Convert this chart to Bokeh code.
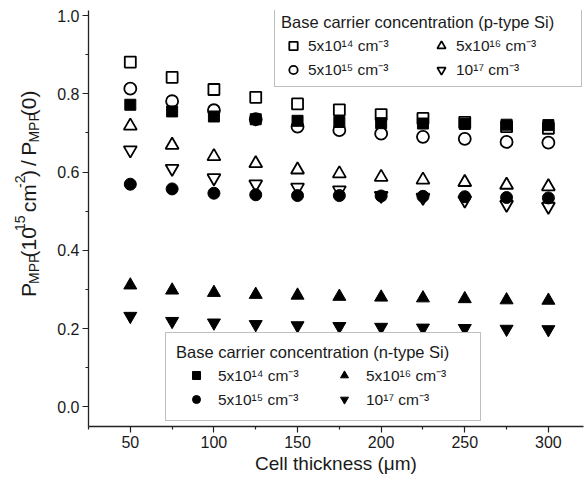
import math
from bokeh.plotting import figure
from bokeh.layouts import row
from bokeh.models import Legend, LegendItem, Label, FixedTicker, PrintfTickFormatter, Range1d
from bokeh.embed import file_html
from bokeh.resources import INLINE

# ---- data -------------------------------------------------------------
thickness = [50, 75, 100, 125, 150, 175, 200, 225, 250, 275, 300]
# p-type Si (open symbols)
p_5e14 = [0.881, 0.842, 0.811, 0.791, 0.774, 0.759, 0.747, 0.737, 0.727, 0.716, 0.712]
p_5e15 = [0.813, 0.781, 0.758, 0.735, 0.716, 0.707, 0.698, 0.690, 0.685, 0.677, 0.675]
p_5e16 = [0.718, 0.669, 0.640, 0.622, 0.606, 0.596, 0.587, 0.580, 0.574, 0.567, 0.563]
p_1e17 = [0.656, 0.609, 0.585, 0.569, 0.561, 0.554, 0.540, 0.535, 0.528, 0.517, 0.512]
# n-type Si (filled symbols)
n_5e14 = [0.772, 0.755, 0.742, 0.735, 0.731, 0.728, 0.725, 0.724, 0.723, 0.721, 0.720]
n_5e15 = [0.569, 0.557, 0.546, 0.542, 0.540, 0.540, 0.539, 0.538, 0.537, 0.535, 0.534]
n_5e16 = [0.311, 0.298, 0.292, 0.287, 0.285, 0.282, 0.280, 0.278, 0.276, 0.273, 0.272]
n_1e17 = [0.232, 0.219, 0.215, 0.211, 0.208, 0.206, 0.204, 0.202, 0.201, 0.199, 0.198]

labels_conc = ["5x10\u00b9\u2074 cm\u207b\u00b3", "5x10\u00b9\u2075 cm\u207b\u00b3",
               "5x10\u00b9\u2076 cm\u207b\u00b3", "10\u00b9\u2077 cm\u207b\u00b3"]
x_ticks = [50, 100, 150, 200, 250, 300]
y_ticks = [0.0, 0.2, 0.4, 0.6, 0.8, 1.0]

FONT = "Liberation Sans"
TXT = "#1a1a1a"

X0, X1 = 25.0, 321.0
Y0, Y1 = -0.05, 1.0128

LAB_W = 54
W_MAIN = 588 - LAB_W
H = 477

p = figure(width=W_MAIN, height=H, x_range=Range1d(X0, X1), y_range=Range1d(Y0, Y1),
           output_backend="svg", toolbar_location=None,
           min_border_left=32, min_border_right=5, min_border_top=10, min_border_bottom=51)
p.outline_line_color = None
p.xgrid.visible = False
p.ygrid.visible = False

x_minor = [t - 25 for t in x_ticks] + [x_ticks[-1] + 25]
y_minor = [round(t + 0.1, 2) for t in y_ticks[:-1]]
p.xaxis.ticker = FixedTicker(ticks=x_ticks, minor_ticks=x_minor)
p.yaxis.ticker = FixedTicker(ticks=y_ticks, minor_ticks=y_minor)
p.xaxis.formatter = PrintfTickFormatter(format="%d")
p.yaxis.formatter = PrintfTickFormatter(format="%.1f")
for ax in (p.xaxis, p.yaxis):
    ax.axis_line_color = "#222222"
    ax.axis_line_width = 1.3
    ax.major_tick_line_color = "#222222"
    ax.minor_tick_line_color = "#222222"
    ax.major_tick_line_width = 1.2
    ax.minor_tick_line_width = 1.2
    ax.major_tick_out = 6
    ax.major_tick_in = 0
    ax.minor_tick_out = 3
    ax.minor_tick_in = 0
    ax.major_label_text_font = FONT
    ax.major_label_text_font_size = "16px"
    ax.major_label_text_color = TXT
    ax.major_label_standoff = 3
p.xaxis.axis_label = "Cell thickness (\u03bcm)"
p.xaxis.axis_label_text_font = FONT
p.xaxis.axis_label_text_font_size = "19px"
p.xaxis.axis_label_text_font_style = "normal"
p.xaxis.axis_label_text_color = TXT
p.xaxis.axis_label_standoff = 2

# ---- markers (open first, filled drawn on top) -------------------------
LW = 1.8
r_p14 = p.scatter(thickness, p_5e14, marker="square", size=11, fill_color="white", line_color="black", line_width=LW)
r_p15 = p.scatter(thickness, p_5e15, marker="circle", size=12, fill_color="white", line_color="black", line_width=LW)
r_p16 = p.scatter(thickness, p_5e16, marker="triangle", size=13, fill_color="white", line_color="black", line_width=LW)
r_p17 = p.scatter(thickness, p_1e17, marker="inverted_triangle", size=13, fill_color="white", line_color="black", line_width=LW)
r_n14 = p.scatter(thickness, n_5e14, marker="square", size=11, fill_color="black", line_color="black", line_width=1)
r_n15 = p.scatter(thickness, n_5e15, marker="circle", size=12, fill_color="black", line_color="black", line_width=1)
r_n16 = p.scatter(thickness, n_5e16, marker="triangle", size=13, fill_color="black", line_color="black", line_width=1)
r_n17 = p.scatter(thickness, n_1e17, marker="inverted_triangle", size=13, fill_color="black", line_color="black", line_width=1)


def make_legend(title, renderers, loc, padding, glyph_w, glyph_h, label_w, standoff, spacing):
    items = [LegendItem(label=lab, renderers=[r]) for lab, r in zip(labels_conc, renderers)]
    return Legend(items=items, location=loc, ncols=2, title=title,
                  title_text_font=FONT, title_text_font_size="16.5px", title_text_font_style="normal",
                  title_text_color=TXT, title_standoff=2,
                  label_text_font=FONT, label_text_font_size="15.5px", label_text_color=TXT,
                  label_width=label_w, label_height=glyph_h, glyph_width=glyph_w, glyph_height=glyph_h,
                  label_standoff=standoff, spacing=spacing, padding=padding,
                  border_line_color="#808080", border_line_width=1.5,
                  background_fill_color="white", background_fill_alpha=1.0)


leg_p = make_legend("Base carrier concentration (p-type Si)", [r_p14, r_p15, r_p16, r_p17],
                    (186, 339), 6, 24, 21, 119, 3, 2)
leg_n = make_legend("Base carrier concentration (n-type Si)", [r_n14, r_n15, r_n16, r_n17],
                    (77, 5), 10, 40, 20, 104, 2, 2)
p.add_layout(leg_p)
p.add_layout(leg_n)

# ---- y-axis title, built from pieces in a narrow side panel ------------
lab = figure(width=LAB_W, height=H, x_range=Range1d(0, LAB_W), y_range=Range1d(0, H),
             x_axis_type=None, y_axis_type=None, output_backend="svg", toolbar_location=None,
             min_border_left=0, min_border_right=0, min_border_top=0, min_border_bottom=0)
lab.outline_line_color = None

MAIN, SMALL = 21, 14
# (text, font size, perpendicular shift: + = subscript, - = superscript)
pieces = [("P", MAIN, 0), ("MPP", SMALL, 5), ("(10", MAIN, 0), ("15", SMALL, -9), (" cm", MAIN, 0),
          ("-2", SMALL, -9), (")", MAIN, 0), (" /", MAIN, 0), (" P", MAIN, 0), ("MPP", SMALL, 5),
          ("(0)", MAIN, 0)]
CW = {"P": .667, "M": .833, "(": .333, ")": .333, " ": .278, "c": .5, "m": .833, "-": .333, "/": .278}


def text_width(s, size):
    return sum(CW.get(ch, .556) for ch in s) * size


bodies = []
cum = 0.0
for s, sz, shift in pieces:
    lead = len(s) - len(s.lstrip(" "))
    cum += lead * CW[" "] * sz
    body = s.lstrip(" ")
    if shift > 0:
        cum += 1.0
    bodies.append((body, sz, shift, cum))
    cum += text_width(body, sz)
total = cum
center_sy = 212
start_y = (H - center_sy) - total / 2
for body, sz, shift, off in bodies:
    lab.add_layout(Label(x=28, y=start_y + off, text=body, angle=math.pi / 2, x_offset=shift,
                         text_font=FONT, text_font_size=f"{sz}px", text_color=TXT,
                         text_align="left", text_baseline="alphabetic"))

layout = row(lab, p, spacing=0)
open("out.html", "w").write(file_html(layout, INLINE))
